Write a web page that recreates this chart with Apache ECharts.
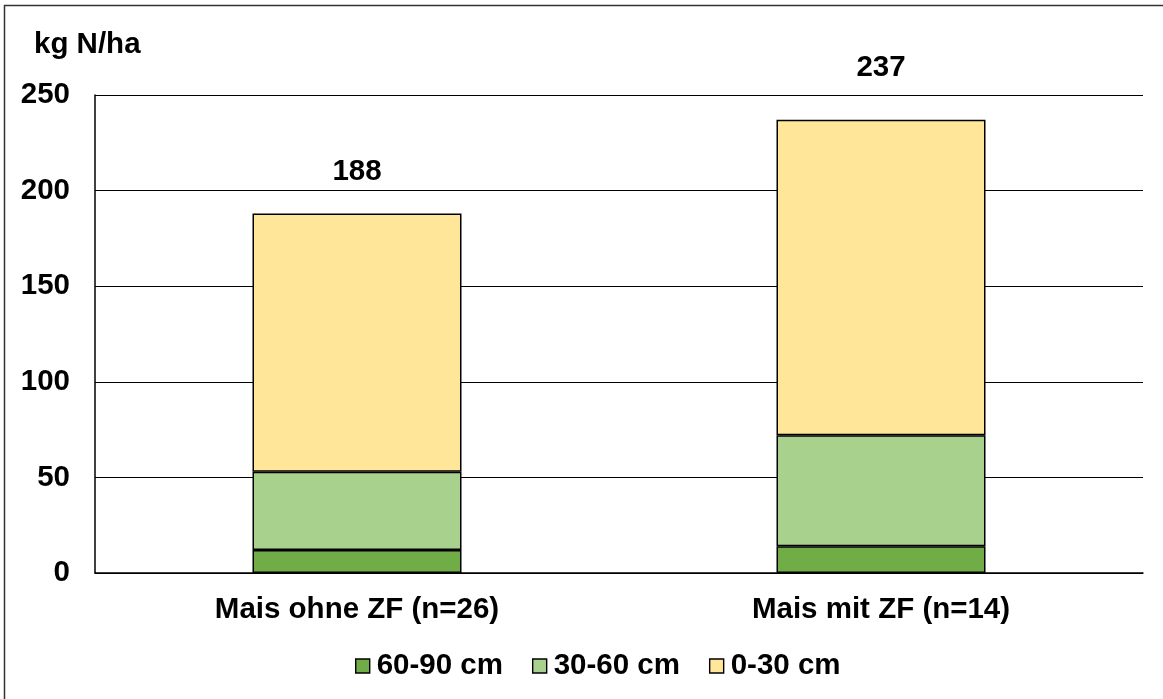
<!DOCTYPE html>
<html>
<head>
<meta charset="utf-8">
<title>Nmin Mais</title>
<script src="https://cdn.jsdelivr.net/npm/echarts@6/dist/echarts.min.js"></script>
<style>
  html, body { margin: 0; padding: 0; background: #fff; }
  #chart { width: 1163px; height: 699px; }
</style>
</head>
<body>
<div id="chart"></div>
<script>
// Soil mineral nitrogen by depth layer (kg N/ha)
const categories = ['Mais ohne ZF (n=26)', 'Mais mit ZF (n=14)'];
const layerNames = ['60-90 cm', '30-60 cm', '0-30 cm'];
const layer6090 = [12, 14];
const layer3060 = [41, 58];
const layer030 = [135, 165];
const totals = [188, 237];
const yTicks = [0, 50, 100, 150, 200, 250];
const totalLabelDistance = [27, 37];

const colors = ['#70AD47', '#A9D18E', '#FFE699'];
const font = "'Liberation Sans', Arial, sans-serif";
const fs = 29.5;

function segment(name, values, color, withTotals) {
  return {
    name: name,
    type: 'bar',
    stack: 'total',
    barWidth: 209,
    itemStyle: { color: color, borderColor: '#000', borderWidth: 1.5 },
    data: values.map((v, i) => {
      const item = { value: v };
      if (withTotals) {
        item.label = {
          show: true,
          position: 'top',
          distance: totalLabelDistance[i],
          formatter: () => String(totals[i]),
          fontFamily: font,
          fontWeight: 'bold',
          fontSize: fs,
          color: '#000'
        };
      }
      return item;
    })
  };
}

const chart = echarts.init(document.getElementById('chart'), null, { renderer: 'canvas' });
chart.setOption({
  animation: false,
  backgroundColor: '#fff',
  textStyle: { fontFamily: font },
  grid: { left: 95, right: 20, top: 95, bottom: 126, containLabel: false },
  legend: {
    bottom: 13,
    left: 350,
    itemWidth: 14,
    itemHeight: 14,
    itemGap: 29,
    icon: 'rect',
    itemStyle: { borderColor: '#000', borderWidth: 1.4 },
    textStyle: { fontFamily: font, fontWeight: 'bold', fontSize: fs, color: '#000', padding: [0, 0, 0, 2] },
    data: layerNames
  },
  xAxis: {
    type: 'category',
    data: categories,
    axisTick: { show: false },
    axisLine: { show: true, lineStyle: { color: '#000', width: 1.5 } },
    axisLabel: { margin: 22, fontFamily: font, fontWeight: 'bold', fontSize: fs, color: '#000' }
  },
  yAxis: {
    type: 'value',
    min: yTicks[0],
    max: yTicks[yTicks.length - 1],
    interval: yTicks[1] - yTicks[0],
    axisLine: { show: true, lineStyle: { color: '#000', width: 1.5 } },
    axisTick: { show: false },
    axisLabel: { margin: 25, fontFamily: font, fontWeight: 'bold', fontSize: fs, color: '#000' },
    splitLine: { show: true, lineStyle: { color: '#000', width: 1.2 } }
  },
  graphic: [
    {
      type: 'rect',
      shape: { x: 4.5, y: 5.5, width: 1400, height: 1000 },
      style: { fill: 'none', stroke: '#333', lineWidth: 1.5 },
      silent: true
    },
    {
      type: 'text',
      left: 34,
      top: 30,
      style: { text: 'kg N/ha', fontFamily: font, fontWeight: 'bold', fontSize: fs, fill: '#000' }
    }
  ],
  series: [
    segment(layerNames[0], layer6090, colors[0], false),
    segment(layerNames[1], layer3060, colors[1], false),
    segment(layerNames[2], layer030, colors[2], true)
  ]
});
</script>
</body>
</html>
